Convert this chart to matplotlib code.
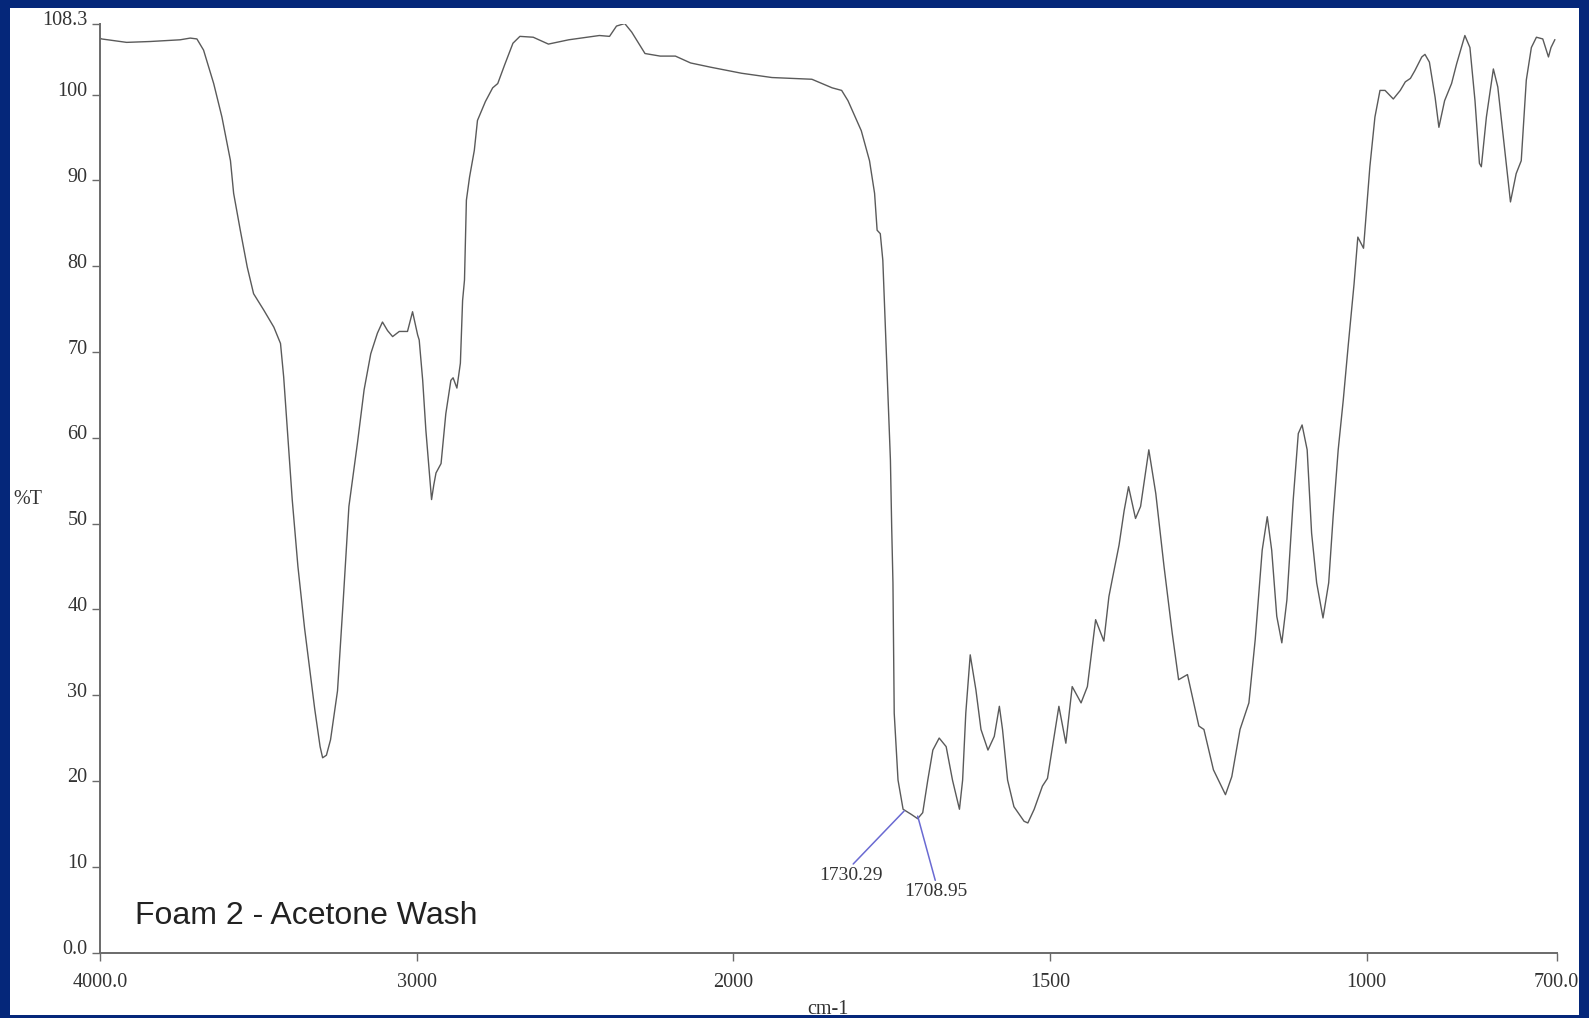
import numpy as np
import matplotlib
matplotlib.use("Agg")
import matplotlib.pyplot as plt
from matplotlib.patches import Rectangle
from matplotlib.transforms import ScaledTranslation

# ---------------- data ----------------
wavenumber = [
    4000, 3995, 3916, 3842, 3747, 3715, 3694, 3673, 3641, 3615, 3588, 3578, 3557,
    3535, 3515, 3483, 3451, 3430, 3420, 3409, 3393, 3375, 3354, 3322, 3305, 3297,
    3285, 3272, 3250, 3232, 3214, 3187, 3166, 3145, 3124, 3108, 3092, 3076, 3055,
    3029, 3013, 2997, 2992, 2981, 2971, 2960, 2953, 2946, 2939, 2923, 2908, 2892,
    2885, 2873, 2862, 2855, 2849, 2843, 2833, 2818, 2808, 2783, 2760, 2744, 2722,
    2696, 2674, 2632, 2584, 2520, 2423, 2391, 2369, 2343, 2321, 2279, 2231, 2183,
    2135, 2071, 1987, 1939, 1876, 1844, 1829, 1819, 1798, 1785, 1777, 1773, 1768,
    1764, 1760, 1756, 1752, 1750, 1748, 1747, 1746, 1740, 1732, 1719, 1709, 1701,
    1693, 1685, 1675, 1664, 1654, 1643, 1638, 1633, 1626, 1617, 1609, 1598, 1588,
    1580, 1575, 1567, 1557, 1541, 1535, 1525, 1512, 1504, 1496, 1486, 1475, 1465,
    1451, 1441, 1428, 1415, 1407, 1402, 1391, 1383, 1376, 1365, 1357, 1344, 1333,
    1320, 1307, 1297, 1283, 1265, 1257, 1242, 1223, 1213, 1200, 1186, 1176, 1165,
    1157, 1150, 1142, 1134, 1126, 1116, 1108, 1102, 1094, 1087, 1079, 1069, 1060,
    1053, 1045, 1037, 1029, 1020, 1014, 1005, 995, 987, 979, 971, 958, 947, 939,
    931, 924, 913, 908, 901, 892, 886, 877, 866, 858, 845, 837, 829, 822, 819, 811,
    800, 793, 782, 773, 764, 756, 748, 740, 732, 722, 713, 709, 703,
]
transmittance = [
    106.6, 106.5, 106.1, 106.2, 106.4, 106.6, 106.5, 105.2, 101.3, 97.4, 92.3, 88.5, 84.2,
    79.9, 76.8, 74.9, 72.9, 71.0, 67.1, 61.3, 52.8, 45.0, 37.8, 28.4, 24.0, 22.7,
    23.0, 24.8, 30.5, 41.0, 52.0, 59.4, 65.6, 69.8, 72.2, 73.5, 72.5, 71.8, 72.4,
    72.4, 74.7, 72.0, 71.4, 66.7, 60.9, 55.9, 52.8, 54.5, 55.9, 57.0, 62.8, 66.7,
    67.0, 65.8, 68.7, 76.0, 78.4, 87.7, 90.4, 93.5, 97.0, 99.2, 100.8, 101.3, 103.5,
    106.0, 106.8, 106.7, 105.9, 106.4, 106.9, 106.8, 108.0, 108.3, 107.3, 104.8, 104.5, 104.5,
    103.7, 103.2, 102.5, 102.0, 101.8, 100.8, 100.5, 99.3, 95.8, 92.3, 88.5, 84.2, 83.8,
    80.7, 72.9, 65.2, 57.4, 49.6, 43.1, 35.7, 27.9, 20.1, 16.7, 16.1, 15.6, 16.3,
    20.1, 23.6, 25.0, 24.0, 20.1, 16.7, 20.1, 27.9, 34.7, 30.6, 26.0, 23.6, 25.2,
    28.7, 26.0, 20.1, 17.0, 15.3, 15.1, 16.7, 19.4, 20.3, 24.0, 28.7, 24.4, 31.0,
    29.1, 31.0, 38.8, 36.3, 41.5, 43.4, 47.5, 51.5, 54.3, 50.6, 52.0, 58.6, 53.5,
    45.0, 37.2, 31.8, 32.4, 26.4, 26.0, 21.3, 18.4, 20.5, 26.0, 29.1, 36.5, 46.9,
    50.8, 46.9, 39.2, 36.1, 41.1, 52.8, 60.5, 61.5, 58.6, 48.9, 43.1, 39.0, 43.1,
    50.8, 58.6, 64.4, 70.9, 77.9, 83.4, 82.1, 91.6, 97.4, 100.5, 100.5, 99.5, 100.5, 101.5,
    101.9, 102.8, 104.4, 104.7, 103.8, 99.7, 96.2, 99.3, 101.3, 103.6, 106.9, 105.5, 99.3, 92.0, 91.6, 97.4,
    103.0, 100.9, 93.5, 87.5, 90.8, 92.3, 101.7, 105.5, 106.7, 106.5, 104.4, 105.5, 106.4,
]

peak_wn = [1730.29, 1708.95]
peak_T = [16.5, 15.9]
peak_labels = ["1730.29", "1708.95"]
label_wn = [1815, 1680]
label_T = [9.0, 7.1]

xticks = [4000, 3000, 2000, 1500, 1000, 700]
xticklabels = ["4000.0", "3000", "2000", "1500", "1000", "700.0"]
yticks = [0, 10, 20, 30, 40, 50, 60, 70, 80, 90, 100, 108.3]
yticklabels = ["0.0", "10", "20", "30", "40", "50", "60", "70", "80", "90", "100", "108.3"]

title_text = "Foam 2 - Acetone Wash"
xlabel_text = "cm-1"
ylabel_text = "%T"


# ------------- split scale (x2 expansion below 2000 cm-1) -------------
def fwd(w):
    w = np.asarray(w, dtype=float)
    return np.where(w >= 2000, w, 2 * w - 2000)


def inv(u):
    u = np.asarray(u, dtype=float)
    return np.where(u >= 2000, u, (u + 2000) / 2)


W, H = 1589, 1018
fig = plt.figure(figsize=(W / 100, H / 100), dpi=100, facecolor="#05277a")
fig.patches.append(Rectangle((10 / W, 3 / H), 1569 / W, 1007 / H,
                             transform=fig.transFigure, facecolor="white",
                             edgecolor="none", zorder=-5))

ax = fig.add_axes([100 / W, 1 - 952.5 / H, 1456.7 / W, 929 / H])
ax.set_zorder(2)
ax.patch.set_alpha(0)
ax.set_xscale("function", functions=(fwd, inv))
ax.plot(wavenumber, transmittance, color="#5a5a5a", lw=1.0)
ax.set_xlim(4000, 700)
ax.set_ylim(0, 108.3)

for s in ("top", "right"):
    ax.spines[s].set_visible(False)
for s in ("left", "bottom"):
    ax.spines[s].set_color("#6a6a6a")
    ax.spines[s].set_linewidth(1.4)

serif = ["Liberation Serif", "DejaVu Serif"]
ax.set_xticks(xticks)
ax.set_xticklabels(xticklabels, fontfamily=serif)
ax.set_yticks(yticks)
ax.set_yticklabels(yticklabels, fontfamily=serif)
ax.xaxis.set_minor_locator(matplotlib.ticker.NullLocator())
ax.tick_params(axis="both", direction="out", length=6, width=1, color="#6a6a6a",
               labelsize=14.5, labelcolor="#333333")
ax.tick_params(axis="x", pad=9)
ax.tick_params(axis="y", pad=3)

# y tick labels sit slightly above their tick marks in the original
shift = ScaledTranslation(0, 0.055, fig.dpi_scale_trans)
for lab in ax.get_yticklabels():
    lab.set_transform(lab.get_transform() + shift)

for pw, pt, lab, lw_, lt in zip(peak_wn, peak_T, peak_labels, label_wn, label_T):
    ax.annotate(lab, xy=(pw, pt), xytext=(lw_, lt), textcoords="data",
                ha="center", va="center", fontsize=14, fontfamily=serif,
                color="#333333",
                arrowprops=dict(arrowstyle="-", color="#6a6ad2", lw=1.1,
                                shrinkA=0, shrinkB=0, relpos=(0.5, 1.0)))

fig.text(135 / W, 1 - 924 / H, title_text, ha="left", va="baseline",
         fontsize=23, fontfamily=["Liberation Sans", "DejaVu Sans"], color="#222222",
         zorder=3)
fig.text(28 / W, 1 - 500 / H, ylabel_text, ha="center", va="center",
         fontsize=14.5, fontfamily=serif, color="#333333", zorder=3)
fig.text(828 / W, 1 - 1009 / H, xlabel_text, ha="center", va="center",
         fontsize=14.5, fontfamily=serif, color="#333333", zorder=3)

fig.savefig("out.png", dpi=100, facecolor=fig.get_facecolor())
